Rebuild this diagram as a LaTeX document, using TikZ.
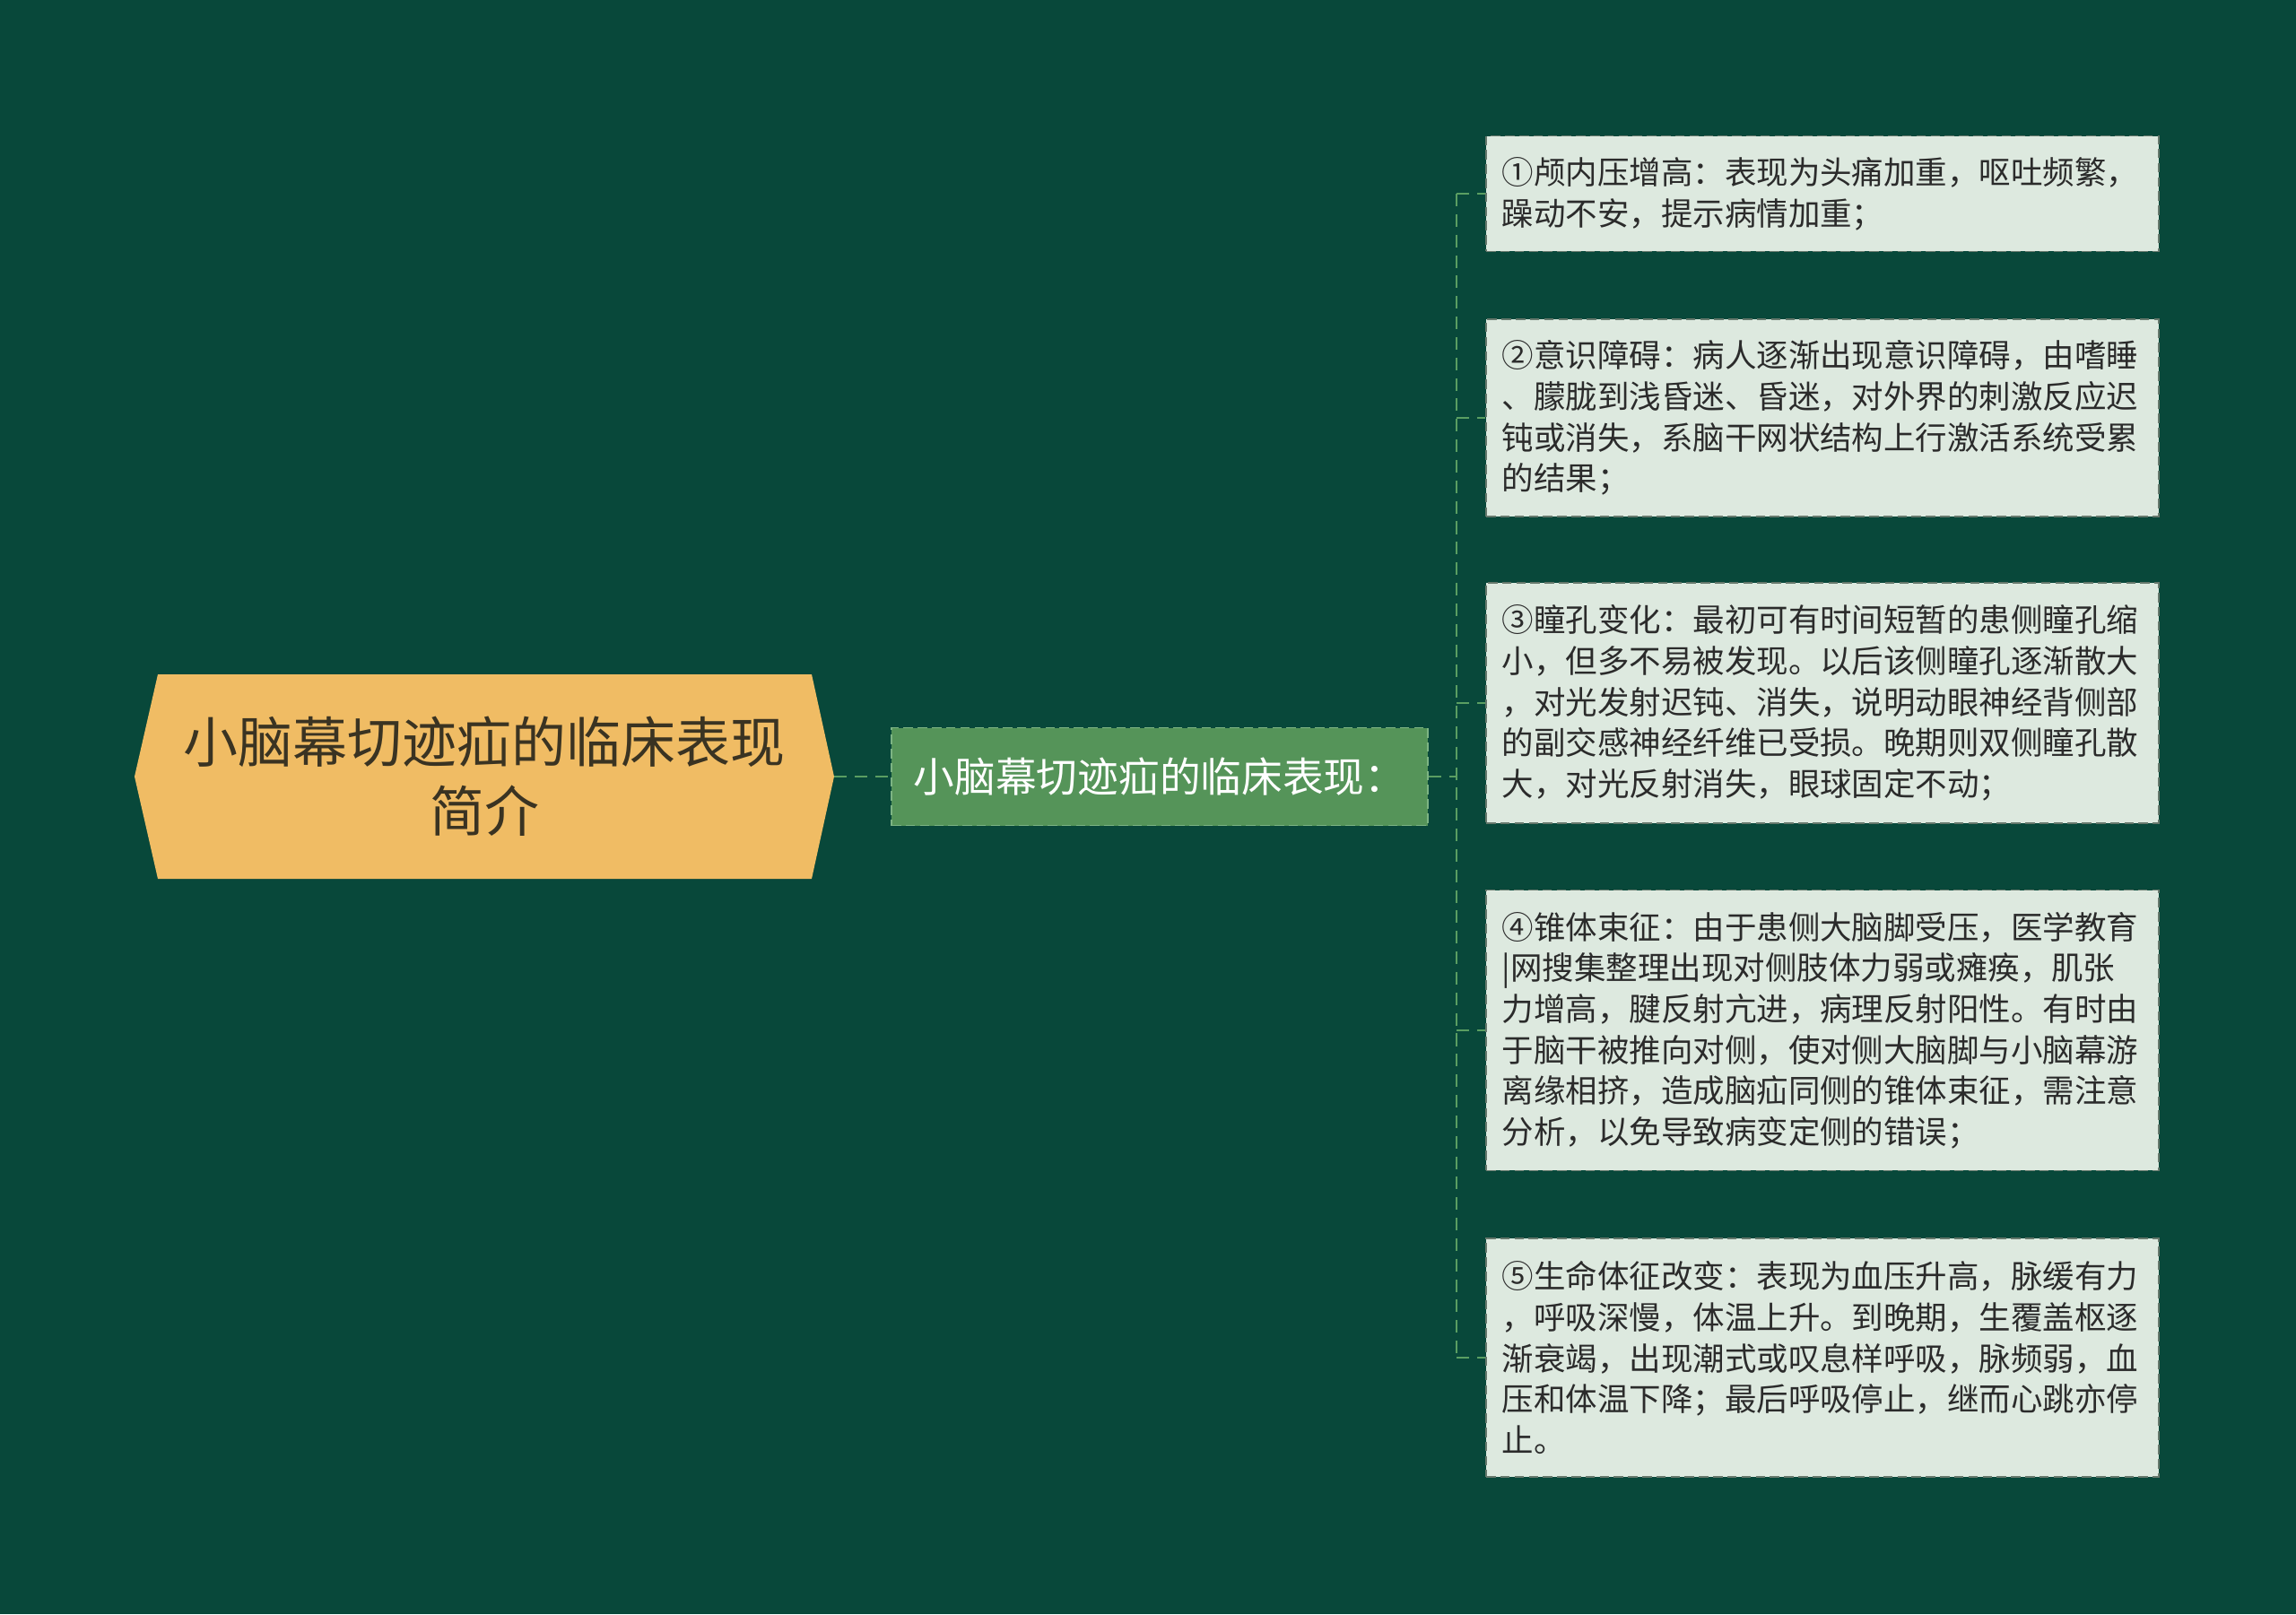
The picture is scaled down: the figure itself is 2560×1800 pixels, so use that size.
\documentclass[tikz,border=0pt]{standalone}
\usepackage{fontspec}
\newfontfamily\cjk{Noto Sans CJK SC}
\definecolor{bgdark}{HTML}{08483A}
\definecolor{rootfill}{HTML}{F0BC64}
\definecolor{roottext}{HTML}{3A3322}
\definecolor{midfill}{HTML}{559459}
\definecolor{midborder}{HTML}{7DB483}
\definecolor{leaffill}{HTML}{DDE9DF}
\definecolor{leafborder}{HTML}{66786C}
\definecolor{leaftext}{HTML}{2B2B2B}
\definecolor{linkcol}{HTML}{5A9E62}
\tikzset{
  rootbox/.style={minimum width=15.6cm, minimum height=4.56cm, inner sep=0pt, align=center,
    text=roottext, font=\cjk\fontsize{34.7}{43.8}\selectfont},
  midbox/.style={draw=midborder, fill=midfill, line width=1pt, dash pattern=on 6pt off 3pt,
    minimum width=11.96cm, minimum height=2.18cm, text=white, font=\cjk\fontsize{26}{30}\selectfont},
  leafbox/.style={draw=leafborder, fill=leaffill, line width=1pt, dash pattern=on 6pt off 3pt,
    text width=14.3cm, inner xsep=0.35cm, align=left, text=leaftext,
    font=\cjk\fontsize{20.2}{26}\selectfont},
  link/.style={draw=linkcol, line width=1.1pt, dash pattern=on 8pt off 5pt}
}
\begin{document}
\begin{tikzpicture}[x=0.02cm, y=-0.02cm]
		\fill[bgdark] (0,0) rectangle (2560,1800);
		% root hexagon
		\fill[rootfill] (150,866) -- (176,752) -- (905,752) -- (930,866) -- (905,980) -- (176,980) -- cycle;
		\node[rootbox] (root) at (540,866) {小脑幕切迹疝的临床表现\\简介};
		\node[midbox] (mid) at (1293,866) {小脑幕切迹疝的临床表现：};
		\coordinate (spine) at (1624,866);
		% leaves
		\node[leafbox, minimum height=2.58cm] (L1) at (2032,216) {①颅内压增高：表现为头痛加重，呕吐频繁，\\躁动不安，提示病情加重；};
		\node[leafbox, minimum height=4.4cm] (L2) at (2032,466) {②意识障碍：病人逐渐出现意识障碍，由嗜睡\\、朦胧到浅昏迷、昏迷，对外界的刺激反应迟\\钝或消失，系脑干网状结构上行激活系统受累\\的结果；};
		\node[leafbox, minimum height=5.36cm] (L3) at (2032,784) {③瞳孔变化：最初可有时间短暂的患侧瞳孔缩\\小，但多不易被发现。以后该侧瞳孔逐渐散大\\，对光发射迟钝、消失，说明动眼神经背侧部\\的副交感神经纤维已受损。晚期则双侧瞳孔散\\大，对光反射消失，眼球固定不动；};
		\node[leafbox, minimum height=6.26cm] (L4) at (2032,1149) {④锥体束征：由于患侧大脑脚受压，医学教育\\|网搜集整理出现对侧肢体力弱或瘫痪，肌张\\力增高，腱反射亢进，病理反射阳性。有时由\\于脑干被推向对侧，使对侧大脑脚与小脑幕游\\离缘相挤，造成脑疝同侧的锥体束征，需注意\\分析，以免导致病变定侧的错误；};
		\node[leafbox, minimum height=5.32cm] (L5) at (2032,1514) {⑤生命体征改变：表现为血压升高，脉缓有力\\，呼吸深慢，体温上升。到晚期，生覆盖枢逐\\渐衰竭，出现潮式或叹息样呼吸，脉频弱，血\\压和体温下降；最后呼吸停止，继而心跳亦停\\止。};
		% connectors
		\draw[link] (root.east) -- (mid.west);
		\draw[link] (mid.east) -- (spine);
		\draw[link] (spine |- L1.west) -- (spine |- L5.west);
		\foreach \leaf in {L1,L2,L3,L4,L5}
		\draw[link] (spine |- \leaf.west) -- (\leaf.west);
		\end{tikzpicture}
\end{document}
